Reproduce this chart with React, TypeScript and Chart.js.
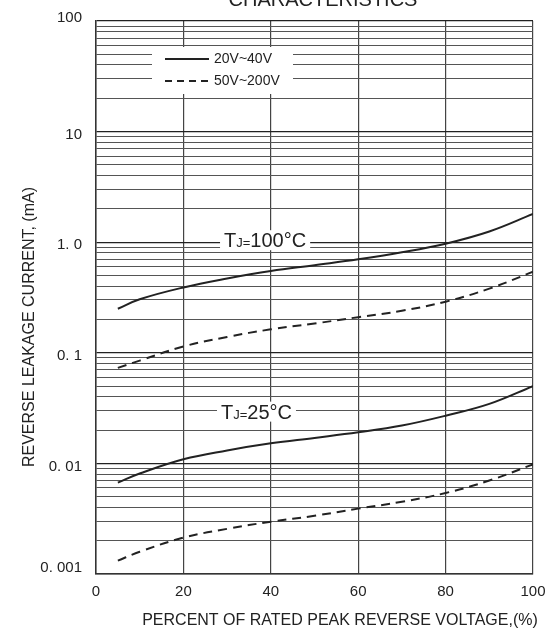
import { useEffect, useRef } from "react";
import { Chart, registerables } from "chart.js";

Chart.register(...registerables);

// ---- data ----
const percentVoltage = [5, 10, 20, 30, 40, 50, 60, 70, 80, 90, 100];
const tj100Low = [0.25, 0.305, 0.39, 0.47, 0.55, 0.62, 0.7, 0.81, 0.97, 1.25, 1.8]; // 20V~40V
const tj100High = [0.073, 0.085, 0.114, 0.139, 0.163, 0.184, 0.21, 0.24, 0.29, 0.38, 0.54]; // 50V~200V
const tj25Low = [0.0067, 0.0081, 0.0109, 0.0131, 0.0152, 0.017, 0.0191, 0.022, 0.027, 0.0345, 0.05];
const tj25High = [0.00132, 0.00159, 0.00213, 0.00256, 0.00297, 0.00336, 0.0039, 0.0045, 0.0054, 0.007, 0.0098];

const xTickValues = [0, 20, 40, 60, 80, 100];
const xTickLabels = ["0", "20", "40", "60", "80", "100"];
const yTickValues = [100, 10, 1, 0.1, 0.01, 0.001];
const yTickLabels = ["100", "10", "1. 0", "0. 1", "0. 01", "0. 001"];
const legendLabels = ["20V~40V", "50V~200V"];
const chartTitle = "CHARACTERISTICS";
const xTitle = "PERCENT OF RATED PEAK REVERSE VOLTAGE,(%)";
const yTitle = "REVERSE LEAKAGE CURRENT, (mA)";

const FONT = '"Liberation Sans", Arial, sans-serif';
const INK = "#222";

const pts = (ys: number[]) => percentVoltage.map((x, i) => ({ x, y: ys[i] }));

const isDecade = (v: number) => {
  const l = Math.log10(v);
  return Math.abs(l - Math.round(l)) < 1e-9;
};

const decorPlugin = {
  id: "decor",
  afterDraw(chart: any) {
    const { ctx, chartArea: ca, scales } = chart;
    const xs = scales.x;
    const ys = scales.y;
    ctx.save();
    ctx.fillStyle = INK;

    // title (cut at top)
    ctx.font = `20px ${FONT}`;
    ctx.textAlign = "center";
    ctx.textBaseline = "alphabetic";
    ctx.fillText(chartTitle, 323, 6);

    // y tick labels
    ctx.font = `15px ${FONT}`;
    ctx.textAlign = "right";
    ctx.textBaseline = "middle";
    yTickValues.forEach((v, i) => {
      let y = ys.getPixelForValue(v) + 3;
      if (i === 0) y = ys.getPixelForValue(v) - 3;
      if (i === yTickValues.length - 1) y = ys.getPixelForValue(v) - 6;
      ctx.fillText(yTickLabels[i], ca.left - 14, y);
    });

    // x tick labels
    ctx.textAlign = "center";
    xTickValues.forEach((v, i) => {
      ctx.fillText(xTickLabels[i], xs.getPixelForValue(v), ca.bottom + 18);
    });

    // axis titles
    ctx.font = `16px ${FONT}`;
    ctx.fillText(xTitle, 340, ca.bottom + 47);
    ctx.save();
    ctx.translate(30, 327);
    ctx.rotate(-Math.PI / 2);
    ctx.fillText(yTitle, 0, 0);
    ctx.restore();

    // legend box
    const lx = ca.left + 56;
    const ly = ca.top + 26;
    ctx.fillStyle = "#fff";
    ctx.fillRect(lx, ly, 141, 47);
    ctx.strokeStyle = INK;
    ctx.lineWidth = 2;
    ctx.beginPath();
    ctx.moveTo(lx + 13, ly + 12);
    ctx.lineTo(lx + 57, ly + 12);
    ctx.stroke();
    ctx.setLineDash([7, 5]);
    ctx.beginPath();
    ctx.moveTo(lx + 13, ly + 34);
    ctx.lineTo(lx + 57, ly + 34);
    ctx.stroke();
    ctx.setLineDash([]);
    ctx.fillStyle = INK;
    ctx.font = `14px ${FONT}`;
    ctx.textAlign = "left";
    ctx.textBaseline = "middle";
    ctx.fillText(legendLabels[0], lx + 62, ly + 12);
    ctx.fillText(legendLabels[1], lx + 62, ly + 34);

    // temperature labels
    const drawTj = (xv: number, yv: number, temp: string, dy: number) => {
      const x0 = xs.getPixelForValue(xv);
      const base = ys.getPixelForValue(yv) + dy;
      ctx.font = `20px ${FONT}`;
      const wT = ctx.measureText("T").width;
      const wTemp = ctx.measureText(temp).width;
      ctx.font = `13px ${FONT}`;
      const wJ = ctx.measureText("J=").width;
      const total = wT + wJ + wTemp;
      ctx.fillStyle = "#fff";
      ctx.fillRect(x0 - 4, base - 17, total + 8, 20);
      ctx.fillStyle = INK;
      ctx.textAlign = "left";
      ctx.textBaseline = "alphabetic";
      ctx.font = `20px ${FONT}`;
      ctx.fillText("T", x0, base);
      ctx.font = `13px ${FONT}`;
      ctx.fillText("J=", x0 + wT, base);
      ctx.font = `20px ${FONT}`;
      ctx.fillText(temp, x0 + wT + wJ, base);
    };
    drawTj(29.3, 1, "100°C", 5);
    drawTj(28.6, 0.03, "25°C", 8);

    ctx.restore();
  },
};

export default function App() {
  const ref = useRef<HTMLCanvasElement | null>(null);
  useEffect(() => {
    if (!ref.current) return;
    const lineBase = {
      borderColor: INK,
      borderWidth: 2,
      pointRadius: 0,
      fill: false,
      tension: 0.4,
    };
    const chart = new Chart(ref.current, {
      type: "line",
      data: {
        datasets: [
          { ...lineBase, label: "100C 20V~40V", data: pts(tj100Low) },
          { ...lineBase, label: "100C 50V~200V", data: pts(tj100High), borderDash: [9, 6] },
          { ...lineBase, label: "25C 20V~40V", data: pts(tj25Low) },
          { ...lineBase, label: "25C 50V~200V", data: pts(tj25High), borderDash: [9, 6] },
        ],
      },
      options: {
        responsive: false,
        animation: false,
        layout: { padding: { left: 96, right: 25, top: 21, bottom: 58 } },
        plugins: { legend: { display: false }, tooltip: { enabled: false }, title: { display: false } },
        scales: {
          x: {
            type: "linear",
            min: 0,
            max: 100,
            afterBuildTicks: (axis: any) => {
              axis.ticks = xTickValues.map((v) => ({ value: v }));
            },
            ticks: { display: false },
            grid: { color: "#444", lineWidth: 1.2, drawTicks: false },
            border: { display: true, color: "#333", width: 1.5 },
          },
          y: {
            type: "logarithmic",
            min: 0.001,
            max: 100,
            afterBuildTicks: (axis: any) => {
              const t: { value: number }[] = [];
              for (let e = -3; e < 2; e++) {
                for (let k = 1; k < 10; k++) t.push({ value: Number((k * Math.pow(10, e)).toPrecision(3)) });
              }
              t.push({ value: 100 });
              axis.ticks = t;
            },
            ticks: { display: false },
            grid: {
              drawTicks: false,
              color: (c: any) => (c.tick && isDecade(c.tick.value) ? "#222" : "#555"),
              lineWidth: (c: any) => (c.tick && isDecade(c.tick.value) ? 1.3 : 1.1),
            },
            border: { display: true, color: "#333", width: 1.5 },
          },
        },
      },
      plugins: [decorPlugin],
    });
    return () => chart.destroy();
  }, []);
  return (
    <div style={{ position: "absolute", left: 0, top: 0, width: 558, height: 632, background: "#fff" }}>
      <canvas ref={ref} width={558} height={632} />
    </div>
  );
}
